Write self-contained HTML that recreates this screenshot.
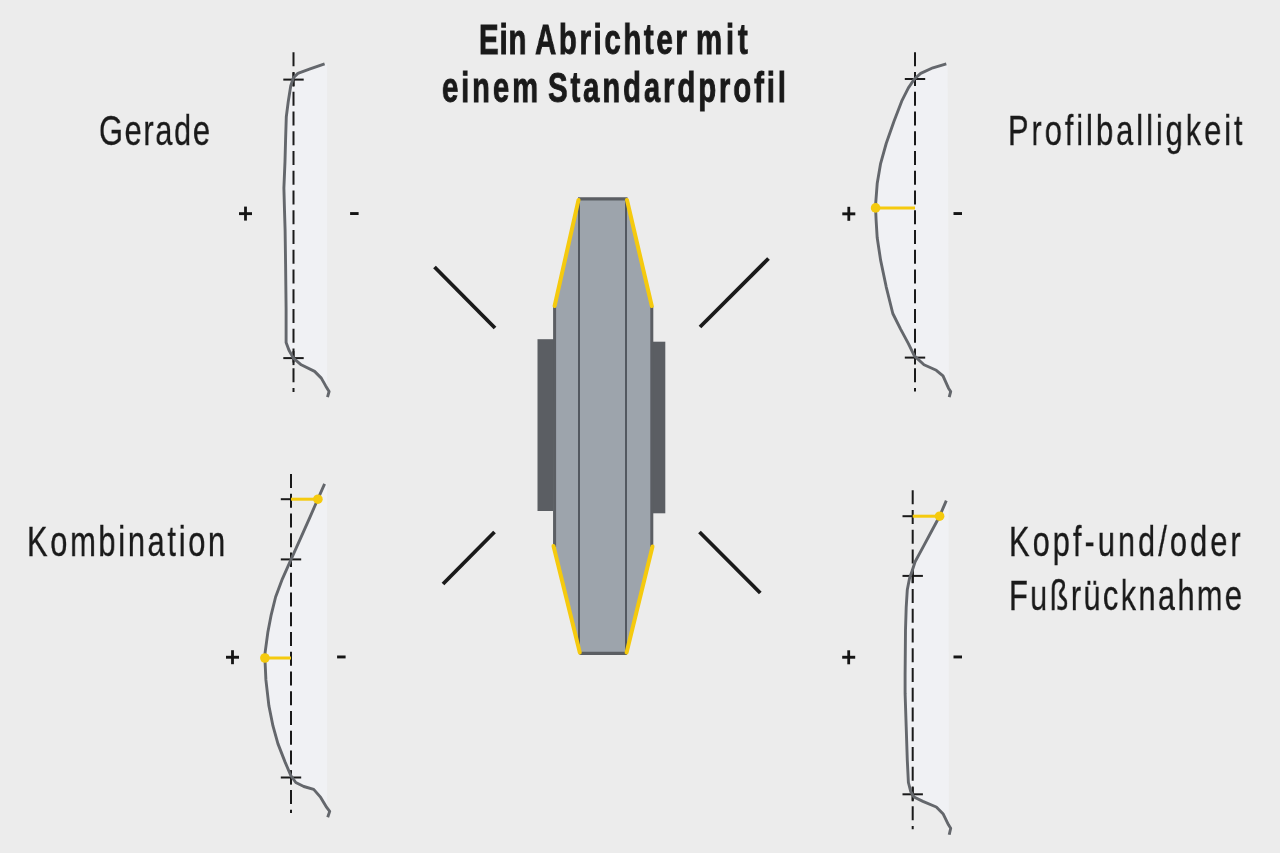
<!DOCTYPE html>
<html><head><meta charset="utf-8">
<style>
html,body{margin:0;padding:0;}
body{width:1280px;height:853px;background:#ececec;position:relative;overflow:hidden;font-family:"Liberation Sans",sans-serif;color:#1a1a1a;}
svg{position:absolute;left:0;top:0;}
.t{position:absolute;white-space:nowrap;transform-origin:0 0;line-height:1;-webkit-text-stroke:0.3px #1a1a1a;will-change:transform;}
.b{font-weight:bold;word-spacing:-3px;-webkit-text-stroke:0.9px #1a1a1a;}
</style></head><body>
<svg width="1280" height="853" viewBox="0 0 1280 853">
<g stroke="#1a1a1a" stroke-width="3.8" stroke-linecap="butt">
<line x1="434.5" y1="267" x2="495" y2="328"/>
<line x1="700" y1="327" x2="768.5" y2="258.5"/>
<line x1="443" y1="584" x2="494.5" y2="532"/>
<line x1="699.5" y1="532" x2="760.3" y2="593"/>
</g>
<rect x="537.5" y="339.2" width="18" height="171.8" fill="#5b5e63"/>
<rect x="651" y="341.7" width="14.3" height="171.6" fill="#5b5e63"/>
<polygon points="578,199 627,199 652,307 652,546 626.6,653.4 579.8,653.4 553,546 554.6,307" fill="#9da4ac"/>
<g stroke="#5b5e63" fill="none">
<line x1="578" y1="198.9" x2="627.5" y2="198.9" stroke-width="3.4"/>
<line x1="579.5" y1="653.4" x2="627" y2="653.4" stroke-width="3.4"/>
<line x1="554.6" y1="306" x2="554.6" y2="547" stroke-width="3"/>
<line x1="651.8" y1="306" x2="651.8" y2="547" stroke-width="3"/>
<line x1="579" y1="199" x2="579" y2="653" stroke-width="2" stroke="#535860"/>
<line x1="626" y1="199" x2="626" y2="653" stroke-width="2" stroke="#535860"/>
</g>
<g stroke="#f5ca0e" stroke-width="4" fill="none" stroke-linecap="round">
<line x1="578.5" y1="200" x2="554.6" y2="306"/>
<line x1="627" y1="200" x2="651.8" y2="306"/>
<line x1="553.5" y1="546" x2="579.8" y2="652.5"/>
<line x1="652.5" y1="546.5" x2="626.6" y2="652.5"/>
</g>
<clipPath id="c0"><polygon points="0,58.8 327.2,58.8 327.2,402.1 0,402.1"/></clipPath>
<polygon fill="#f0f1f4" clip-path="url(#c0)" points="324.6,63.8 310.1,68.9 297.9,73.4 293.4,77.8 290.8,85.6 288.3,101.2 286.3,116.8 285.6,139.1 285.0,161.4 283.9,188.1 284.5,210.4 285.1,230.0 285.6,264.5 286.1,309.1 286.1,342.5 289.0,350.3 293.4,358.1 301.2,364.8 314.6,371.4 321.3,378.1 325.7,385.9 329.1,391.5 327.5,397.1 347.2,397.1 347.2,63.8"/>
<line x1="293.5" y1="52.3" x2="293.5" y2="392" stroke="#1a1a1a" stroke-width="2" stroke-dasharray="14 5.74"/>
<line x1="283.3" y1="79.6" x2="303.7" y2="79.6" stroke="#1a1a1a" stroke-width="2"/>
<line x1="293.5" y1="72.6" x2="293.5" y2="86.6" stroke="#1a1a1a" stroke-width="2"/>
<line x1="283.3" y1="358.1" x2="303.7" y2="358.1" stroke="#1a1a1a" stroke-width="2"/>
<line x1="293.5" y1="351.1" x2="293.5" y2="365.1" stroke="#1a1a1a" stroke-width="2"/>
<polyline fill="none" stroke="#64676c" stroke-width="2.9" stroke-linejoin="round" stroke-linecap="butt" points="324.6,63.8 310.1,68.9 297.9,73.4 293.4,77.8 290.8,85.6 288.3,101.2 286.3,116.8 285.6,139.1 285.0,161.4 283.9,188.1 284.5,210.4 285.1,230.0 285.6,264.5 286.1,309.1 286.1,342.5 289.0,350.3 293.4,358.1 301.2,364.8 314.6,371.4 321.3,378.1 325.7,385.9 329.1,391.5 327.5,397.1"/>
<clipPath id="c1"><polygon points="0,58.8 947.6,58.8 949,402.1 0,402.1"/></clipPath>
<polygon fill="#f0f1f4" clip-path="url(#c1)" points="946.3,63.8 932.9,67.8 920.7,73.4 914.4,79.0 908.4,87.9 901.7,101.2 894.0,121.3 886.2,143.5 880.6,163.6 877.2,183.6 875.5,205.9 876.1,220.0 877.2,237.8 880.6,260.1 886.2,286.8 892.8,313.5 900.6,329.1 908.4,343.6 914.4,355.9 924.0,364.8 936.3,370.3 943.0,375.9 948.5,388.2 950.7,391.5 949.2,397.1 969.0,397.1 967.6,63.8"/>
<line x1="915" y1="52.3" x2="915" y2="391.5" stroke="#1a1a1a" stroke-width="2" stroke-dasharray="14 5.74"/>
<line x1="904.8" y1="79" x2="925.2" y2="79" stroke="#1a1a1a" stroke-width="2"/>
<line x1="915" y1="72" x2="915" y2="86" stroke="#1a1a1a" stroke-width="2"/>
<line x1="904.8" y1="357.6" x2="925.2" y2="357.6" stroke="#1a1a1a" stroke-width="2"/>
<line x1="915" y1="350.6" x2="915" y2="364.6" stroke="#1a1a1a" stroke-width="2"/>
<polyline fill="none" stroke="#64676c" stroke-width="2.9" stroke-linejoin="round" stroke-linecap="butt" points="946.3,63.8 932.9,67.8 920.7,73.4 914.4,79.0 908.4,87.9 901.7,101.2 894.0,121.3 886.2,143.5 880.6,163.6 877.2,183.6 875.5,205.9 876.1,220.0 877.2,237.8 880.6,260.1 886.2,286.8 892.8,313.5 900.6,329.1 908.4,343.6 914.4,355.9 924.0,364.8 936.3,370.3 943.0,375.9 948.5,388.2 950.7,391.5 949.2,397.1"/>
<line x1="875.6" y1="207.9" x2="915" y2="207.9" stroke="#f5ca0e" stroke-width="3"/>
<circle cx="875.6" cy="207.9" r="4.8" fill="#f5ca0e"/>
<clipPath id="c2"><polygon points="0,478.8 327.2,478.8 327.2,822.3 0,822.3"/></clipPath>
<polygon fill="#f0f1f4" clip-path="url(#c2)" points="324.6,483.8 317.9,499.0 310.1,516.8 301.2,536.8 291.2,559.1 282.3,579.1 275.6,597.0 271.2,614.8 267.8,632.6 265.1,652.6 264.9,658.0 265.9,679.9 268.9,705.8 272.9,725.7 277.9,743.6 284.9,761.6 290.8,775.5 295.8,782.5 303.8,786.5 313.7,789.4 320.7,797.4 326.7,807.4 329.7,811.4 327.7,817.3 347.2,817.3 347.2,483.8"/>
<line x1="291" y1="474.1" x2="291" y2="813" stroke="#1a1a1a" stroke-width="2" stroke-dasharray="14 5.74"/>
<line x1="280.8" y1="499.2" x2="291" y2="499.2" stroke="#1a1a1a" stroke-width="2"/>
<line x1="280.8" y1="559.4" x2="301.2" y2="559.4" stroke="#1a1a1a" stroke-width="2"/>
<line x1="291" y1="552.4" x2="291" y2="566.4" stroke="#1a1a1a" stroke-width="2"/>
<line x1="280.8" y1="777.5" x2="301.2" y2="777.5" stroke="#1a1a1a" stroke-width="2"/>
<line x1="291" y1="770.5" x2="291" y2="784.5" stroke="#1a1a1a" stroke-width="2"/>
<polyline fill="none" stroke="#64676c" stroke-width="2.9" stroke-linejoin="round" stroke-linecap="butt" points="324.6,483.8 317.9,499.0 310.1,516.8 301.2,536.8 291.2,559.1 282.3,579.1 275.6,597.0 271.2,614.8 267.8,632.6 265.1,652.6 264.9,658.0 265.9,679.9 268.9,705.8 272.9,725.7 277.9,743.6 284.9,761.6 290.8,775.5 295.8,782.5 303.8,786.5 313.7,789.4 320.7,797.4 326.7,807.4 329.7,811.4 327.7,817.3"/>
<line x1="317.9" y1="499.2" x2="291" y2="499.2" stroke="#f5ca0e" stroke-width="3"/>
<circle cx="317.9" cy="499.2" r="4.8" fill="#f5ca0e"/>
<line x1="264.9" y1="658" x2="291" y2="658" stroke="#f5ca0e" stroke-width="3"/>
<circle cx="264.9" cy="658" r="4.8" fill="#f5ca0e"/>
<clipPath id="c3"><polygon points="0,495.6 948.5,495.6 949,839.8 0,839.8"/></clipPath>
<polygon fill="#f0f1f4" clip-path="url(#c3)" points="946.3,500.6 939.6,516.2 931.8,530.7 922.9,547.4 915.1,561.8 912.2,570.7 909.5,578.5 907.3,589.7 906.2,607.5 905.5,629.8 905.1,675.0 905.1,693.4 906.2,726.8 907.3,760.2 908.4,782.5 910.7,791.4 914.0,797.0 922.9,801.4 936.3,807.0 943.0,813.7 948.5,824.8 950.7,828.2 949.2,834.8 969.0,834.8 968.5,500.6"/>
<line x1="912.7" y1="490.3" x2="912.7" y2="829.3" stroke="#1a1a1a" stroke-width="2" stroke-dasharray="14 5.74"/>
<line x1="902.5" y1="516.2" x2="912.7" y2="516.2" stroke="#1a1a1a" stroke-width="2"/>
<line x1="902.5" y1="575.9" x2="922.9" y2="575.9" stroke="#1a1a1a" stroke-width="2"/>
<line x1="912.7" y1="568.9" x2="912.7" y2="582.9" stroke="#1a1a1a" stroke-width="2"/>
<line x1="902.5" y1="794.3" x2="922.9" y2="794.3" stroke="#1a1a1a" stroke-width="2"/>
<line x1="912.7" y1="787.3" x2="912.7" y2="801.3" stroke="#1a1a1a" stroke-width="2"/>
<polyline fill="none" stroke="#64676c" stroke-width="2.9" stroke-linejoin="round" stroke-linecap="butt" points="946.3,500.6 939.6,516.2 931.8,530.7 922.9,547.4 915.1,561.8 912.2,570.7 909.5,578.5 907.3,589.7 906.2,607.5 905.5,629.8 905.1,675.0 905.1,693.4 906.2,726.8 907.3,760.2 908.4,782.5 910.7,791.4 914.0,797.0 922.9,801.4 936.3,807.0 943.0,813.7 948.5,824.8 950.7,828.2 949.2,834.8"/>
<line x1="939.6" y1="516.2" x2="912.7" y2="516.2" stroke="#f5ca0e" stroke-width="3"/>
<circle cx="939.6" cy="516.2" r="4.8" fill="#f5ca0e"/>
<g fill="#151515">
<rect x="239.0" y="212.2" width="13" height="2.9"/><rect x="244.1" y="206.6" width="2.8" height="14"/>
<rect x="350.1" y="212.1" width="8.5" height="2.9"/>
<rect x="842.3" y="212.4" width="13" height="2.9"/><rect x="847.4" y="206.8" width="2.8" height="14"/>
<rect x="953.5" y="212.1" width="8.5" height="2.9"/>
<rect x="226.0" y="655.8" width="13" height="2.9"/><rect x="231.1" y="650.2" width="2.8" height="14"/>
<rect x="337.1" y="655.5" width="8.5" height="2.9"/>
<rect x="842.2" y="655.8" width="13" height="2.9"/><rect x="847.3" y="650.3" width="2.8" height="14"/>
<rect x="953.5" y="655.5" width="8.5" height="2.9"/>
</g>
</svg>
<div class="t b" id="t1a" style="left:478.5px;top:18.2px;font-size:42.6px;letter-spacing:1.26px;transform:scaleX(0.690);">Ein</div>
<div class="t b" id="t1b" style="left:534.6px;top:18.3px;font-size:42.6px;letter-spacing:3.83px;transform:scaleX(0.690);">Abrichter</div>
<div class="t b" id="t1c" style="left:695.7px;top:18.2px;font-size:42.6px;letter-spacing:5.50px;transform:scaleX(0.690);">mit</div>
<div class="t b" id="t2a" style="left:442.4px;top:65.5px;font-size:42.6px;letter-spacing:4.05px;transform:scaleX(0.690);">einem</div>
<div class="t b" id="t2b" style="left:547.5px;top:65.5px;font-size:42.6px;letter-spacing:4.13px;transform:scaleX(0.690);">Standardprofil</div>
<div class="t " id="l1" style="left:98.5px;top:108.8px;font-size:43.4px;letter-spacing:2.33px;transform:scaleX(0.710);">Gerade</div>
<div class="t " id="l2" style="left:1008.4px;top:108.7px;font-size:43.4px;letter-spacing:4.18px;transform:scaleX(0.710);">Profilballigkeit</div>
<div class="t " id="l3" style="left:26.6px;top:519.7px;font-size:43.4px;letter-spacing:3.79px;transform:scaleX(0.710);">Kombination</div>
<div class="t " id="l4" style="left:1009.4px;top:519.6px;font-size:43.4px;letter-spacing:4.27px;transform:scaleX(0.710);">Kopf-und/oder</div>
<div class="t " id="l5" style="left:1009.4px;top:573.9px;font-size:43.4px;letter-spacing:3.31px;transform:scaleX(0.710);">Fußrücknahme</div>
</body></html>
